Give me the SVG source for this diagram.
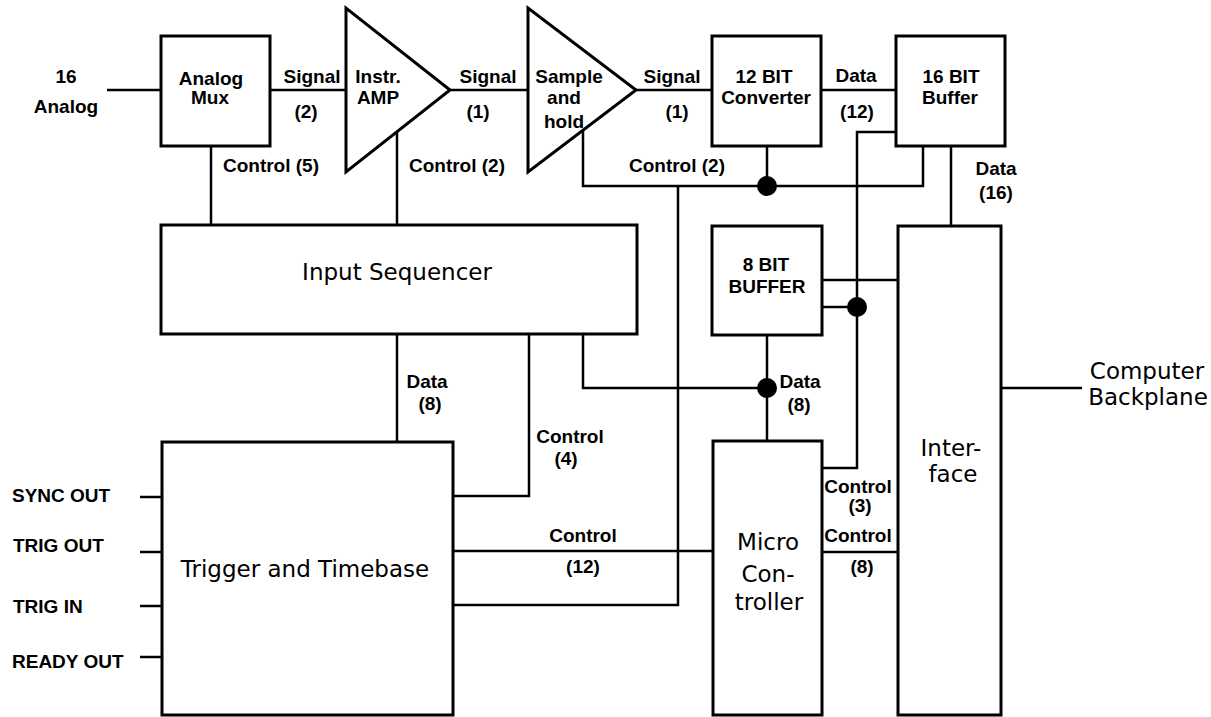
<svg xmlns="http://www.w3.org/2000/svg" width="1211" height="717" viewBox="0 0 1211 717">
<style>
.box{fill:none;stroke:#000;stroke-width:3}
.ln{fill:none;stroke:#000;stroke-width:2.5}
.dot{fill:#000}
.s{font-family:"Liberation Sans",Arial,sans-serif;font-weight:bold;font-size:19px;fill:#000;text-anchor:middle}
.sl{font-family:"Liberation Sans",Arial,sans-serif;font-weight:bold;font-size:19px;fill:#000}
.b{font-family:"DejaVu Sans",Verdana,sans-serif;font-size:23px;fill:#000;text-anchor:middle}
</style>
<rect width="1211" height="717" fill="#fff"/>
<g id="connectors">
<path class="ln" d="M107,90 H161"/>
<path class="ln" d="M270,90 H346"/>
<path class="ln" d="M450,90 H528"/>
<path class="ln" d="M636,90 H712"/>
<path class="ln" d="M821,90 H896"/>
<path class="ln" d="M211,146 V225"/>
<path class="ln" d="M397,132 V225"/>
<path class="ln" d="M583,130 V186 H923 V146"/>
<path class="ln" d="M767,146 V186"/>
<path class="ln" d="M678,186 V605 H453"/>
<path class="ln" d="M896,132 H857 V468 H822"/>
<path class="ln" d="M822,307 H857"/>
<path class="ln" d="M822,280 H898"/>
<path class="ln" d="M951,146 V226"/>
<path class="ln" d="M767,335 V441"/>
<path class="ln" d="M583,334 V388 H767"/>
<path class="ln" d="M397,334 V442"/>
<path class="ln" d="M529,334 V496 H453"/>
<path class="ln" d="M453,551 H713"/>
<path class="ln" d="M822,552 H898"/>
<path class="ln" d="M1001,388 H1082"/>
<path class="ln" d="M140,497 H162 M140,552 H162 M140,606 H162 M140,657 H162"/>
<circle class="dot" cx="767" cy="186" r="10"/>
<circle class="dot" cx="857" cy="307" r="10"/>
<circle class="dot" cx="767" cy="388" r="10"/>
</g>
<g id="labels">
<text class="s" x="66" y="83">16</text>
<text class="s" x="66" y="113">Analog</text>
<text class="s" x="312" y="83">Signal</text>
<text class="s" x="306" y="118">(2)</text>
<text class="s" x="271" y="172">Control (5)</text>
<text class="s" x="488" y="83">Signal</text>
<text class="s" x="478" y="118">(1)</text>
<text class="s" x="457" y="172">Control (2)</text>
<text class="s" x="672" y="83">Signal</text>
<text class="s" x="677" y="118">(1)</text>
<text class="s" x="677" y="172">Control (2)</text>
<text class="s" x="856" y="82">Data</text>
<text class="s" x="857" y="118">(12)</text>
<text class="s" x="996" y="175">Data</text>
<text class="s" x="996" y="199">(16)</text>
<text class="s" x="427" y="388">Data</text>
<text class="s" x="430" y="410">(8)</text>
<text class="s" x="570" y="443">Control</text>
<text class="s" x="566" y="465">(4)</text>
<text class="s" x="800" y="388">Data</text>
<text class="s" x="799" y="411">(8)</text>
<text class="s" x="583" y="542">Control</text>
<text class="s" x="583" y="573">(12)</text>
<text class="s" x="858" y="493">Control</text>
<text class="s" x="860" y="512">(3)</text>
<text class="s" x="858" y="542">Control</text>
<text class="s" x="862" y="573">(8)</text>
<text class="sl" x="12" y="502">SYNC OUT</text>
<text class="sl" x="13" y="552">TRIG OUT</text>
<text class="sl" x="13" y="613">TRIG IN</text>
<text class="sl" x="12" y="668">READY OUT</text>
<text class="b" x="1147" y="379">Computer</text>
<text class="b" x="1148" y="405">Backplane</text>
</g>
<g id="analog-mux">
<rect class="box" x="161" y="36" width="109" height="110"/>
<text class="s" x="211" y="85">Analog</text>
<text class="s" x="210" y="104">Mux</text>
</g>
<g id="instr-amp">
<polygon class="box" points="346,8 346,172 450,90"/>
<text class="s" x="378" y="83">Instr.</text>
<text class="s" x="378" y="104">AMP</text>
</g>
<g id="sample-hold">
<polygon class="box" points="528,8 528,172 636,90"/>
<text class="s" x="569" y="83">Sample</text>
<text class="s" x="564" y="104">and</text>
<text class="s" x="564" y="128">hold</text>
</g>
<g id="converter">
<rect class="box" x="712" y="36" width="109" height="110"/>
<text class="s" x="764" y="83">12 BIT</text>
<text class="s" x="766" y="104">Converter</text>
</g>
<g id="buffer16">
<rect class="box" x="896" y="36" width="109" height="110"/>
<text class="s" x="951" y="83">16 BIT</text>
<text class="s" x="950" y="104">Buffer</text>
</g>
<g id="input-sequencer">
<rect class="box" x="161" y="225" width="476" height="109"/>
<text class="b" x="397" y="280" font-size="24">Input Sequencer</text>
</g>
<g id="buffer8">
<rect class="box" x="712" y="226" width="110" height="109"/>
<text class="s" x="766" y="271">8 BIT</text>
<text class="s" x="767" y="293">BUFFER</text>
</g>
<g id="trigger-timebase">
<rect class="box" x="162" y="442" width="291" height="273"/>
<text class="b" x="305" y="577">Trigger and Timebase</text>
</g>
<g id="micro-controller">
<rect class="box" x="713" y="441" width="109" height="274"/>
<text class="b" x="768" y="550">Micro</text>
<text class="b" x="768" y="582">Con-</text>
<text class="b" x="769" y="610">troller</text>
</g>
<g id="interface">
<rect class="box" x="898" y="226" width="103" height="489"/>
<text class="b" x="951" y="456">Inter-</text>
<text class="b" x="953" y="482">face</text>
</g>
</svg>
